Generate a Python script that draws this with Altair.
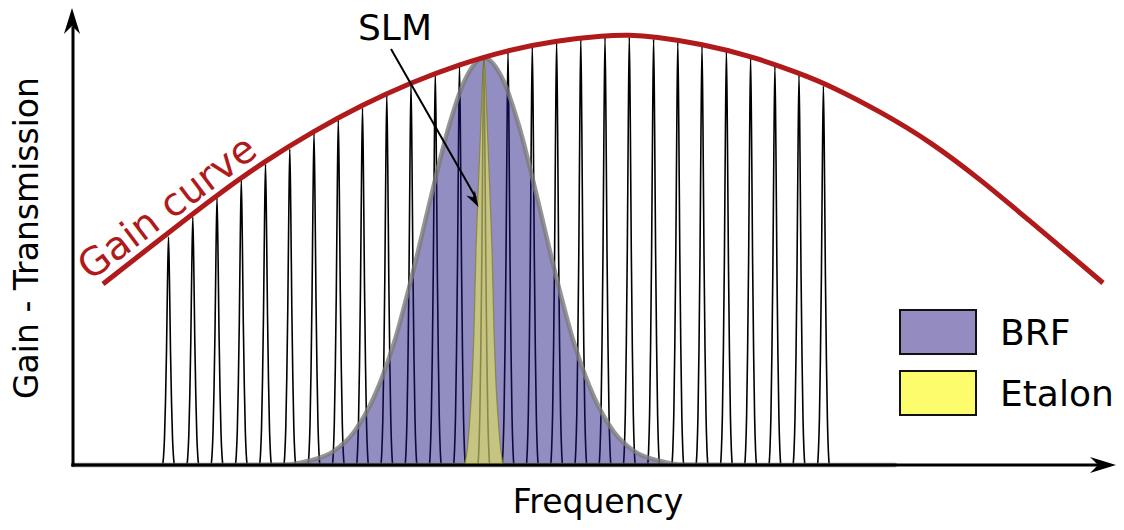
import altair as alt
import pandas as pd

# ---- values (arbitrary frequency / gain units) ----
gain_freq = [30, 95, 144, 192, 241, 289, 338, 386, 435, 484, 532, 556, 581, 629,
             678, 726, 758, 808, 858, 908, 958, 995, 1030]
gain_val = [181, 232, 270, 304, 334, 360, 382.5, 400.5, 415, 424.5, 429.5, 430, 428.5,
            421, 409, 392, 379, 353, 323, 285, 243, 212, 182]

mode_freq = [95.5, 119.8, 144, 168.3, 192.5, 216.8, 241, 265.3, 289.5, 313.8, 338,
             362.3, 386.5, 410.8, 435, 459.3, 483.6, 507.8, 532, 556.3, 580.6,
             604.8, 629, 653.4, 677.6, 701.9, 726, 750.4]
mode_height = [228, 248, 267, 285, 301, 316, 332, 345, 357, 370, 381, 392, 400, 407,
               413, 419, 423, 426, 427.5, 428, 426, 423, 419, 414, 407, 399, 390, 379]

# shape of one longitudinal mode (offset from centre, fraction of its height)
peak_offset = [-5.8, -5, -4, -3, -2, -1, 0, 1, 2, 3, 4, 5, 5.8]
peak_frac = [0, 0.035, 0.12, 0.28, 0.5, 0.8, 1, 0.8, 0.5, 0.28, 0.12, 0.035, 0]

brf_freq = [0, 111, 215, 235, 261, 281, 301, 321, 341, 357, 376, 391, 411, 431,
            446, 465, 481, 501, 521, 541, 561, 587, 607, 711, 822]
brf_val = [0, 0, 0.5, 4, 14, 33, 68, 122, 197, 264, 339, 383, 407, 383, 339, 264,
           197, 122, 68, 33, 14, 4, 0.5, 0, 0]

etalon_freq = [391, 394, 397, 399, 401, 403, 405, 408, 409.5, 411, 412.5, 414, 417,
               419, 421, 423, 425, 428, 431]
etalon_val = [0, 13, 48, 81, 134, 215, 269, 345, 385, 407, 385, 345, 269, 215, 134,
              81, 48, 13, 0]

legend_labels = ["BRF", "Etalon"]
legend_colors = ["#948cc0", "#fcfc6c"]

# ---- tables ----
gain_df = pd.DataFrame({"f": gain_freq, "g": gain_val})
rows = []
for i, (c, h) in enumerate(zip(mode_freq, mode_height)):
    for off, fr in zip(peak_offset, peak_frac):
        rows.append({"mode": i, "f": c + off, "g": h * fr})
modes_df = pd.DataFrame(rows)
brf_df = pd.DataFrame({"f": brf_freq, "g": brf_val})
etalon_df = pd.DataFrame({"f": etalon_freq, "g": etalon_val})
one = pd.DataFrame({"a": [0]})

FONT = "DejaVu Sans"
RED = "#b01a1a"

X = alt.X("f:Q", scale=alt.Scale(domain=[0, 1042], nice=False, zero=False), axis=None)
Y = alt.Y("g:Q", scale=alt.Scale(domain=[0, 457], nice=False, zero=False), axis=None)

modes = alt.Chart(modes_df).mark_line(
    color="black", strokeWidth=1.6, interpolate="monotone"
).encode(x=X, y=Y, detail="mode:N")

brf = alt.Chart(brf_df).mark_area(
    fill="#1c127d", fillOpacity=0.48, stroke="#7a7a7a", strokeOpacity=0.8,
    strokeWidth=4.5, interpolate="monotone", strokeJoin="round"
).encode(x=X, y=Y)

etalon = alt.Chart(etalon_df).mark_area(
    fill="#f0f050", fillOpacity=0.55, stroke="#7a7a20", strokeOpacity=0.7,
    strokeWidth=1.2, interpolate="monotone"
).encode(x=X, y=Y)

gain = alt.Chart(gain_df).mark_line(
    color=RED, strokeWidth=5, interpolate="basis"
).encode(x=X, y=Y)

# axes with arrow heads
ARROW_R = "M1,0 L-1,-0.62 L-0.38,0 L-1,0.62 Z"
ARROW_U = "M0,-1 L-0.62,1 L0,0.38 L0.62,1 Z"
xaxis = alt.Chart(one).mark_rule(color="black", strokeWidth=3, strokeCap="square").encode(
    x=alt.value(0), x2=alt.value(1025), y=alt.value(457))
yaxis = alt.Chart(one).mark_rule(color="black", strokeWidth=3, strokeCap="square").encode(
    x=alt.value(0), y=alt.value(457), y2=alt.value(20))
xhead = alt.Chart(one).mark_point(shape=ARROW_R, filled=True, color="black", size=676,
                                  opacity=1).encode(x=alt.value(1030), y=alt.value(457))
yhead = alt.Chart(one).mark_point(shape=ARROW_U, filled=True, color="black", size=676,
                                  opacity=1).encode(x=alt.value(-1), y=alt.value(13))

# SLM annotation
slm_text = alt.Chart(one).mark_text(text="SLM", font=FONT, fontSize=36, color="black",
                                    align="center", baseline="alphabetic").encode(
    x=alt.value(322), y=alt.value(32))
slm_line = alt.Chart(one).mark_rule(color="black", strokeWidth=2).encode(
    x=alt.value(318), y=alt.value(41), x2=alt.value(403), y2=alt.value(190))
slm_head = alt.Chart(one).mark_point(shape=ARROW_R, filled=True, color="black", size=256,
                                     opacity=1, angle=60.3).encode(
    x=alt.value(401.5), y=alt.value(192))

# titles
xtitle = alt.Chart(one).mark_text(text="Frequency", font=FONT, fontSize=33, color="black",
                                  align="center", baseline="alphabetic").encode(
    x=alt.value(525), y=alt.value(505))
ytitle = alt.Chart(one).mark_text(text="Gain - Transmission", font=FONT, fontSize=33,
                                  color="black", align="center", baseline="alphabetic",
                                  angle=270).encode(x=alt.value(-35), y=alt.value(230))
gain_label = alt.Chart(one).mark_text(text="Gain curve", font=FONT, fontSize=39, color=RED,
                                      align="center", baseline="alphabetic",
                                      angle=323).encode(x=alt.value(102), y=alt.value(210))

layers = [modes, brf, etalon, gain, xaxis, yaxis, xhead, yhead, slm_line, slm_head,
          slm_text, xtitle, ytitle, gain_label]

# legend
for i, (lab, col) in enumerate(zip(legend_labels, legend_colors)):
    y0 = 302 + i * 61
    layers.append(alt.Chart(one).mark_rect(fill=col, stroke="#111111", strokeWidth=2).encode(
        x=alt.value(827), x2=alt.value(903), y=alt.value(y0), y2=alt.value(y0 + 44)))
    layers.append(alt.Chart(one).mark_text(text=lab, font=FONT, fontSize=36, color="black",
                                           align="left", baseline="alphabetic").encode(
        x=alt.value(927), y=alt.value(y0 + 35)))

chart = alt.layer(*layers).properties(
    width=1042, height=457,
    padding={"left": 65, "top": 0, "right": 1, "bottom": 57},
    autosize=alt.AutoSizeParams(type="none"),
    background="white",
).configure_view(strokeWidth=0)

chart.save("out.html", embed_options={"renderer": "svg", "actions": False})
